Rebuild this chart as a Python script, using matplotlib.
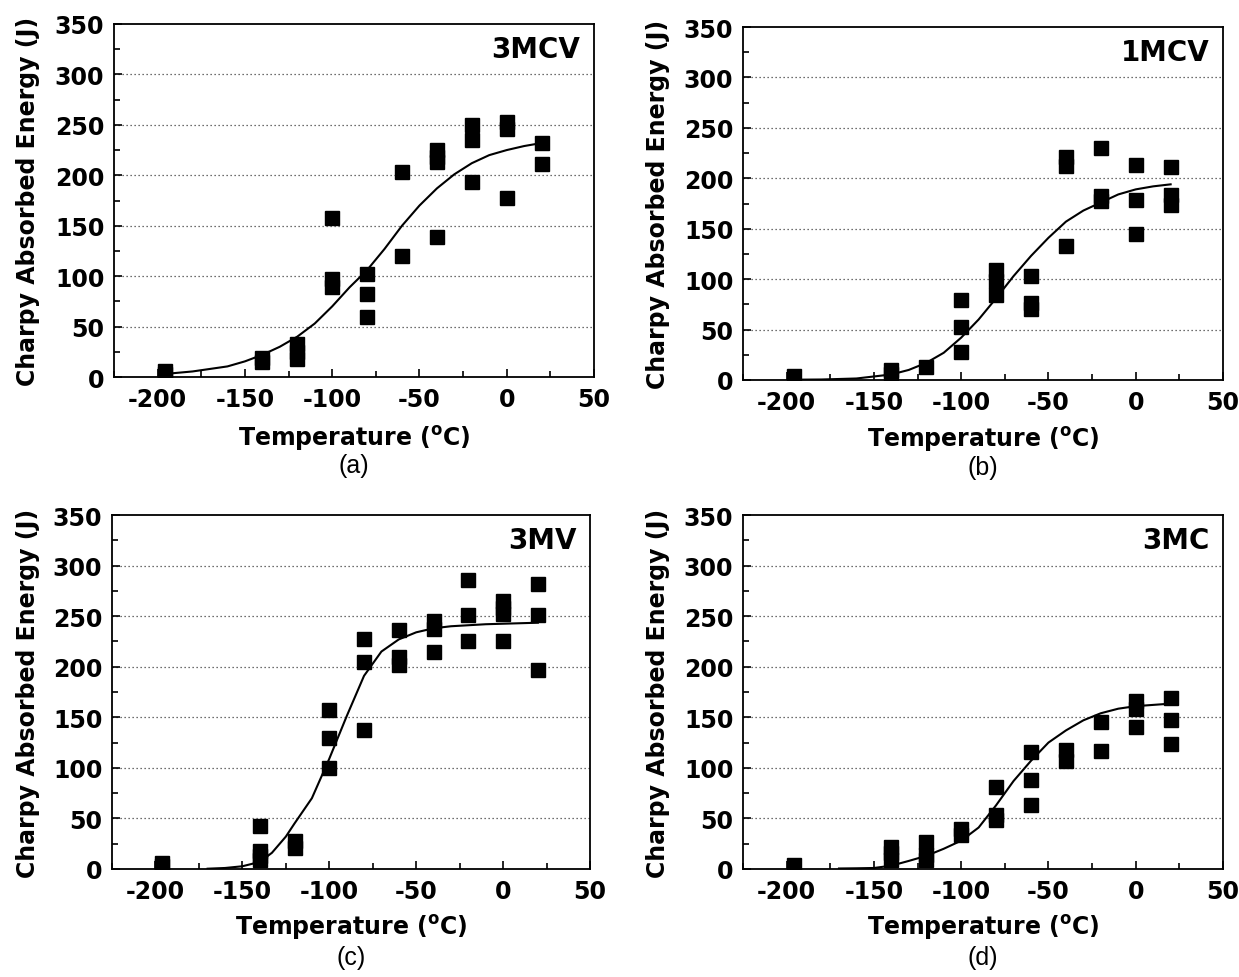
import matplotlib
matplotlib.use("Agg")
import matplotlib.pyplot as plt
from matplotlib.ticker import MultipleLocator

plt.rcParams['font.family'] = ['DejaVu Sans']
plt.rcParams['axes.unicode_minus'] = False
plt.rcParams['mathtext.fontset'] = 'custom'
plt.rcParams['mathtext.rm'] = 'DejaVu Sans:bold'
plt.rcParams['mathtext.default'] = 'rm'

# ---------------- data ----------------
labels = ["3MCV", "1MCV", "3MV", "3MC"]
sub_labels = ["(a)", "(b)", "(c)", "(d)"]

# measured points (temperature in C, energy in J)
t_3mcv = [-196, -196, -140, -140, -120, -120, -120, -100, -100, -100, -80, -80, -80,
          -60, -60, -40, -40, -40, -40, -20, -20, -20, 0, 0, 0, 20, 20]
e_3mcv = [3, 6, 15, 19, 33, 25, 18, 158, 97, 89, 102, 82, 59,
          203, 120, 225, 218, 213, 139, 250, 235, 193, 253, 246, 177, 232, 211]

t_1mcv = [-196, -140, -140, -120, -100, -100, -100, -80, -80, -80, -60, -60, -60,
          -40, -40, -40, -20, -20, -20, 0, 0, 0, 20, 20, 20]
e_1mcv = [4, 6, 10, 13, 79, 53, 28, 109, 98, 84, 103, 76, 70,
          221, 212, 133, 230, 182, 177, 213, 178, 145, 211, 183, 174]

t_3mv = [-196, -196, -140, -140, -140, -140, -120, -120, -100, -100, -100, -80, -80, -80,
         -60, -60, -60, -40, -40, -40, -20, -20, -20, 0, 0, 0, 0, 20, 20, 20]
e_3mv = [3, 6, 43, 18, 13, 9, 28, 21, 157, 130, 100, 227, 205, 137,
         236, 210, 202, 245, 237, 215, 286, 251, 225, 265, 258, 252, 225, 282, 251, 197]

t_3mc = [-196, -140, -140, -140, -120, -120, -120, -100, -100, -80, -80, -80,
         -60, -60, -60, -40, -40, -20, -20, 0, 0, 0, 20, 20, 20]
e_3mc = [4, 22, 16, 9, 27, 14, 9, 40, 34, 81, 53, 48,
         116, 88, 63, 118, 107, 145, 117, 166, 158, 140, 169, 147, 124]

# fitted curves
ct_3mcv = [-196, -180, -160, -150, -140, -130, -120, -110, -100, -90, -80, -70, -60,
           -50, -40, -30, -20, -10, 0, 10, 20]
ce_3mcv = [3, 5.5, 10.5, 15.5, 22, 30, 40, 53, 70, 89, 106, 127, 150,
           170, 187, 201, 212, 220, 225, 229, 232]

ct_1mcv = [-196, -180, -160, -140, -130, -120, -110, -100, -90, -80, -70, -60,
           -50, -40, -30, -20, -10, 0, 10, 20]
ce_1mcv = [0.3, 0.5, 1.5, 5.5, 10, 17, 27, 42, 60, 81, 103, 123,
           141, 157, 168, 176, 184, 189, 192, 194]

ct_3mv = [-170, -160, -150, -140, -133, -125, -120, -110, -100, -90, -80, -70, -60,
          -50, -40, -30, -20, -10, 0, 20]
ce_3mv = [0.3, 1, 2.7, 7, 16, 32, 45, 70, 109, 151, 191, 215, 227,
          234, 238, 240, 241, 242, 242.5, 243.5]

ct_3mc = [-170, -160, -150, -140, -130, -120, -110, -100, -90, -80, -70, -60,
          -50, -40, -30, -20, -10, 0, 20]
ce_3mc = [0.5, 0.7, 1, 3.3, 8, 13, 20, 28, 41, 63, 87, 107,
          125, 137, 147, 154, 158.5, 161, 163.5]

x_ticks = [-200, -150, -100, -50, 0, 50]
y_ticks = [0, 50, 100, 150, 200, 250, 300, 350]

series = [(t_3mcv, e_3mcv, ct_3mcv, ce_3mcv),
          (t_1mcv, e_1mcv, ct_1mcv, ce_1mcv),
          (t_3mv, e_3mv, ct_3mv, ce_3mv),
          (t_3mc, e_3mc, ct_3mc, ce_3mc)]

# ---------------- layout ----------------
W, H = 1239, 978
boxes = [(114, 594, 25, 378), (743, 1223, 28, 381),
         (112, 590, 516, 870), (743, 1223, 516, 870)]
ylabel_x = [28, 658, 28, 658]
sub_y = [466, 468, 958, 958]
xlab_y = [439, 440, 928, 928]

fig = plt.figure(figsize=(W / 100, H / 100), dpi=100)

for i, (t, e, ct, ce) in enumerate(series):
    l, r, top, b = boxes[i]
    ax = fig.add_axes([l / W, 1 - b / H, (r - l) / W, (b - top) / H])
    ax.set_xlim(-225, 50)
    ax.set_ylim(0, 350)
    for yv in y_ticks[1:-1]:
        ax.axhline(yv, color='0.25', lw=0.9, ls=(0, (1, 2.2)), zorder=1)
    ax.plot(ct, ce, color='black', lw=1.5, zorder=2)
    ax.plot(t, e, 's', color='black', markersize=10, zorder=3)

    ax.set_xticks(x_ticks)
    ax.set_yticks(y_ticks)
    ax.xaxis.set_minor_locator(MultipleLocator(25))
    ax.yaxis.set_minor_locator(MultipleLocator(25))
    ax.tick_params(which='both', direction='in', top=False, right=False,
                   width=1.2, labelsize=17, pad=7)
    ax.tick_params(which='major', length=6)
    ax.tick_params(which='minor', length=4)
    for lab in ax.get_xticklabels() + ax.get_yticklabels():
        lab.set_fontweight('bold')
    for s in ax.spines.values():
        s.set_linewidth(1.3)

    ax.text(0.972, 0.928, labels[i], transform=ax.transAxes, ha='right', va='center',
            fontsize=20, fontweight='bold')

    cx = (l + r) / 2
    fig.text(cx / W, 1 - xlab_y[i] / H, r"Temperature ($^{\mathrm{o}}$C)",
             ha='center', va='center', fontsize=17, fontweight='bold')
    fig.text(cx / W, 1 - sub_y[i] / H, sub_labels[i], ha='center', va='center',
             fontsize=18, family=['Liberation Sans'])
    fig.text(ylabel_x[i] / W, 1 - ((top + b) / 2) / H, "Charpy Absorbed Energy (J)",
             ha='center', va='center', rotation=90, fontsize=17, fontweight='bold')

fig.savefig("out.png", dpi=100)
